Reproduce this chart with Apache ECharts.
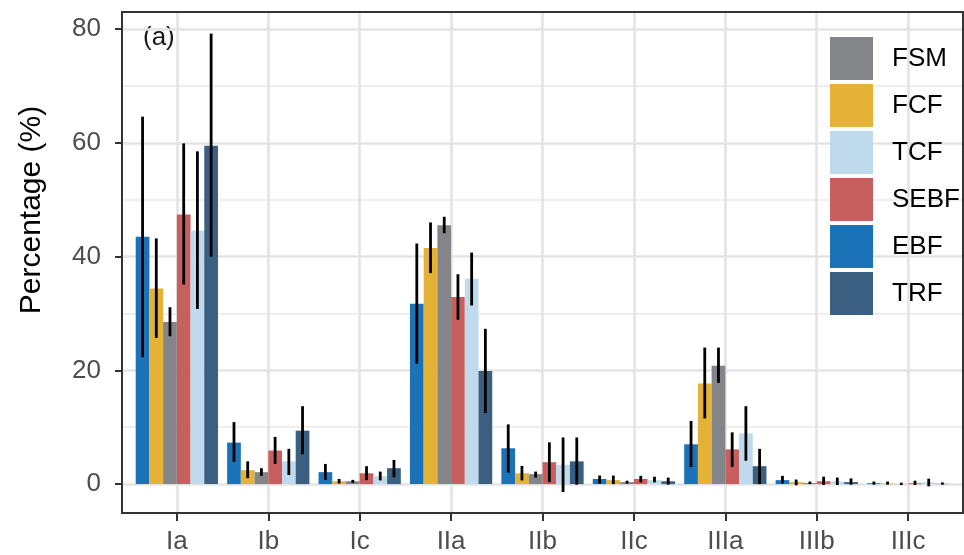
<!DOCTYPE html>
<html>
<head>
<meta charset="utf-8">
<script src="https://cdn.jsdelivr.net/npm/echarts@6/dist/echarts.min.js"></script>
<style>html,body{margin:0;padding:0;background:#fff}#c{width:964px;height:555px}</style>
</head>
<body>
<div id="c"></div>
<script>
const categories = ['Ia','Ib','Ic','IIa','IIb','IIc','IIIa','IIIb','IIIc'];
const dodgeOrder = ['EBF','FCF','FSM','SEBF','TCF','TRF'];
const legendOrder = ['FSM','FCF','TCF','SEBF','EBF','TRF'];
const yTicks = [0, 20, 40, 60, 80];
const yMinorTicks = [10, 30, 50, 70];

const EBF_mean = [43.5, 7.3, 2.1, 31.7, 6.3, 0.9, 7.0, 0.7, 0.15];
const EBF_low  = [22.3, 3.9, 0.75, 21.2, 2.0, 0.1, 3.0, 0.1, -0.1];
const EBF_high = [64.6, 10.9, 3.55, 42.3, 10.5, 1.5, 11.1, 1.45, 0.45];

const FCF_mean = [34.4, 2.45, 0.5, 41.5, 1.9, 0.7, 17.7, 0.35, 0.1];
const FCF_low  = [25.7, 1.05, 0.1, 37.1, 0.65, 0.0, 11.55, -0.2, -0.1];
const FCF_high = [43.2, 4.0, 0.9, 46.0, 3.2, 1.5, 24.0, 0.8, 0.45];

const FSM_mean = [28.5, 2.1, 0.5, 45.5, 1.75, 0.35, 20.8, 0.2, 0.02];
const FSM_low  = [26.0, 1.45, 0.2, 44.1, 1.15, 0.1, 17.8, 0.0, -0.15];
const FSM_high = [31.1, 2.8, 0.75, 47.0, 2.2, 0.6, 24.0, 0.45, 0.25];

const SEBF_mean = [47.4, 5.9, 1.9, 32.9, 3.85, 0.9, 6.1, 0.5, 0.15];
const SEBF_low  = [35.1, 3.55, 0.7, 28.9, 0.35, 0.3, 3.0, -0.15, -0.15];
const SEBF_high = [59.9, 8.3, 3.15, 36.9, 7.35, 1.45, 9.1, 1.3, 0.6];

const TCF_mean = [44.6, 4.0, 1.4, 36.1, 3.4, 0.7, 8.9, 0.45, 0.3];
const TCF_low  = [30.8, 1.6, 0.65, 31.4, -1.4, 0.3, 4.1, -0.15, -0.4];
const TCF_high = [58.5, 6.2, 2.2, 40.7, 8.2, 1.3, 13.7, 1.15, 0.95];

const TRF_mean = [59.5, 9.4, 2.8, 19.9, 4.0, 0.5, 3.15, 0.35, 0.05];
const TRF_low  = [40.0, 5.25, 1.2, 12.5, -0.1, -0.1, 0.0, -0.1, -0.1];
const TRF_high = [79.2, 13.7, 4.25, 27.3, 8.2, 1.15, 6.2, 1.0, 0.3];

const seriesData = {
  EBF: [EBF_mean, EBF_low, EBF_high],
  FCF: [FCF_mean, FCF_low, FCF_high],
  FSM: [FSM_mean, FSM_low, FSM_high],
  SEBF: [SEBF_mean, SEBF_low, SEBF_high],
  TCF: [TCF_mean, TCF_low, TCF_high],
  TRF: [TRF_mean, TRF_low, TRF_high]
};
const colors = {
  EBF: '#1c72b7', FCF: '#e3b236', FSM: '#848589',
  SEBF: '#c75f5e', TCF: '#bedaec', TRF: '#3a5f80'
};

const FONT = '"Liberation Sans", Arial, Helvetica, sans-serif';
const nT = dodgeOrder.length;
const dodgeWidth = 0.9;

const series = dodgeOrder.map((name, k) => {
  const [m, lo, hi] = seriesData[name];
  return {
    name: name,
    type: 'custom',
    xAxisIndex: 0, yAxisIndex: 0,
    itemStyle: { color: colors[name] },
    data: categories.map((c, i) => [i + 1, m[i], lo[i], hi[i]]),
    encode: { x: 0, y: [1, 2, 3] },
    renderItem: function (params, api) {
      const x = api.value(0);
      const unit = api.size([1, 0])[0];
      const bw = unit * dodgeWidth / nT;
      const base = api.coord([x, 0]);
      const cx = base[0] + (k - (nT - 1) / 2) * bw;
      const top = api.coord([x, api.value(1)])[1];
      const yLo = api.coord([x, api.value(2)])[1];
      const yHi = api.coord([x, api.value(3)])[1];
      return {
        type: 'group',
        children: [
          { type: 'rect', shape: { x: cx - bw / 2, y: top, width: bw, height: base[1] - top },
            style: { fill: colors[name] } },
          { type: 'line', shape: { x1: cx, y1: yLo, x2: cx, y2: yHi },
            style: { stroke: '#000', lineWidth: 2.8 } }
        ]
      };
    }
  };
});

const chart = echarts.init(document.getElementById('c'), null, { renderer: 'canvas' });
chart.setOption({
  animation: false,
  backgroundColor: '#fff',
  grid: { left: 122, right: 1, top: 12, bottom: 40, show: true,
          borderColor: '#333', borderWidth: 2, backgroundColor: 'transparent', z: 3 },
  legend: {
    data: legendOrder.map(n => ({ name: n, icon: 'rect' })),
    orient: 'vertical', left: 830, top: 37, padding: 0,
    itemWidth: 43, itemHeight: 43, itemGap: 4,
    selectedMode: false,
    textStyle: { fontFamily: FONT, fontSize: 26, color: '#000', padding: [0, 0, 0, 14] }
  },
  xAxis: {
    type: 'value', min: 0.4, max: 9.6,
    axisLine: { show: false, onZero: false },
    axisTick: { show: true, length: 8, customValues: [1,2,3,4,5,6,7,8,9],
                lineStyle: { color: '#333', width: 2 } },
    axisLabel: { customValues: [1,2,3,4,5,6,7,8,9], margin: 16,
                 formatter: v => categories[Math.round(v) - 1] || '',
                 fontFamily: FONT, fontSize: 26, color: '#4d4d4d' },
    splitLine: { show: true, lineStyle: { color: '#e4e4e4', width: 2.6 } }
  },
  yAxis: [{
    type: 'value', min: -5.08, max: 83.0,
    axisLine: { show: false, onZero: false },
    axisTick: { show: true, length: 7, customValues: yTicks,
                lineStyle: { color: '#333', width: 2 } },
    axisLabel: { customValues: yTicks, margin: 21, fontFamily: FONT, fontSize: 26, color: '#4d4d4d' },
    splitLine: { show: true, lineStyle: { color: '#e4e4e4', width: 2.6 } }
  }, {
    type: 'value', min: -5.08, max: 83.0, position: 'right',
    axisLine: { show: false, onZero: false },
    axisTick: { show: false, customValues: yMinorTicks },
    axisLabel: { show: false, customValues: yMinorTicks },
    splitLine: { show: true, lineStyle: { color: '#e8e8e8', width: 1.5 } }
  }],
  graphic: [
    { type: 'text', x: 32, y: 210, rotation: Math.PI / 2,
      style: { text: 'Percentage (%)', font: '30px ' + FONT, fill: '#000',
               textAlign: 'center', textVerticalAlign: 'middle' } },
    { type: 'text', x: 143, y: 38,
      style: { text: '(a)', font: '26px ' + FONT, fill: '#1a1a1a',
               textAlign: 'left', textVerticalAlign: 'middle' } }
  ],
  series: series
});
</script>
</body>
</html>
